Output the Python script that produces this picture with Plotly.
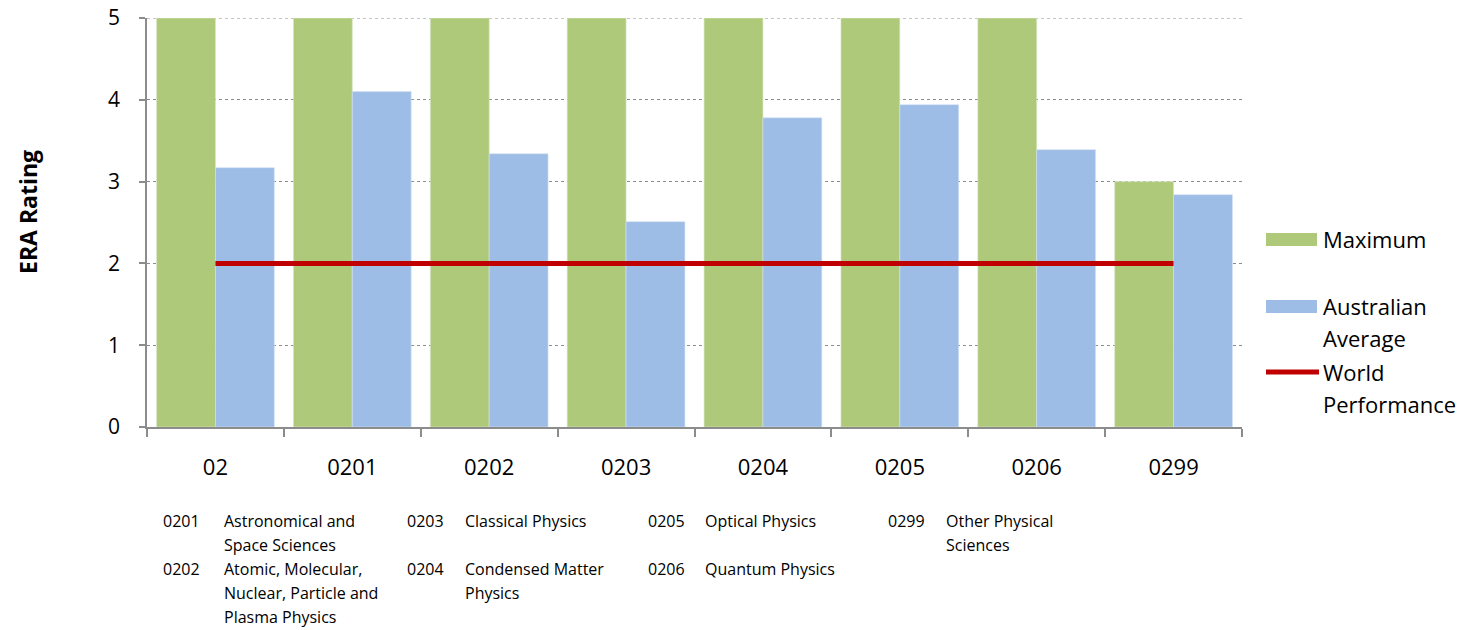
import plotly.graph_objects as go

categories = ["02", "0201", "0202", "0203", "0204", "0205", "0206", "0299"]
maximum = [5, 5, 5, 5, 5, 5, 5, 3]
australian_average = [3.17, 4.10, 3.34, 2.51, 3.78, 3.94, 3.39, 2.84]
world_performance = [2, 2, 2, 2, 2, 2, 2, 2]
y_ticks = [0, 1, 2, 3, 4, 5]

footnote_codes = ["0201", "0202", "0203", "0204", "0205", "0206", "0299"]
footnote_names = [
    "Astronomical and\nSpace Sciences",
    "Atomic, Molecular,\nNuclear, Particle and\nPlasma Physics",
    "Classical Physics",
    "Condensed Matter\nPhysics",
    "Optical Physics",
    "Quantum Physics",
    "Other Physical\nSciences",
]

W, H = 1478, 630
L, R, T, B = 147, 1242, 18, 427  # page pixel coordinates of plot area
PW, PH = R - L, B - T


def px(x):
    return (x - L) / PW


def py(y):
    return (B - y) / PH


GREEN = "#AFC97B"
BLUE = "#9DBDE6"
RED = "#C00000"
GRID = "#8C8C8C"
FONT = "Open Sans"

fig = go.Figure()
fig.add_trace(go.Bar(x=categories, y=maximum, name="Maximum",
                     marker=dict(color=GREEN, line=dict(width=0.6, color="#D8E6C2")),
                     showlegend=False))
fig.add_trace(go.Bar(x=categories, y=australian_average, name="Australian Average",
                     marker=dict(color=BLUE, line=dict(width=0.6, color="#D2E1F5")),
                     showlegend=False))
fig.add_trace(go.Scatter(x=categories, y=world_performance, name="World Performance",
                         mode="lines", line=dict(color=RED, width=5),
                         showlegend=False))

annotations = []
shapes = []

# top gridline (plotly clips grid lines at the range ends)
shapes.append(dict(type="line", xref="paper", yref="y", x0=0, x1=1,
                   y0=max(y_ticks), y1=max(y_ticks), layer="below",
                   line=dict(color=GRID, width=1, dash="dot")))

# y-axis title
annotations.append(dict(x=px(28), y=py(212), xref="paper", yref="paper",
                        text="<b>ERA Rating</b>", textangle=-90, showarrow=False,
                        font=dict(family=FONT, size=23, color="black"),
                        xanchor="center", yanchor="middle"))

# manual legend
leg_font = dict(family=FONT, size=22, color="black")
shapes.append(dict(type="rect", xref="paper", yref="paper",
                   x0=px(1266), x1=px(1317), y0=py(246), y1=py(233),
                   fillcolor=GREEN, line=dict(width=0)))
shapes.append(dict(type="rect", xref="paper", yref="paper",
                   x0=px(1266), x1=px(1317), y0=py(313), y1=py(300),
                   fillcolor=BLUE, line=dict(width=0)))
shapes.append(dict(type="line", xref="paper", yref="paper",
                   x0=px(1266), x1=px(1319), y0=py(372), y1=py(372),
                   line=dict(color=RED, width=5)))
legend_lines = [("Maximum", 239), ("Australian", 306), ("Average", 338),
                ("World", 372), ("Performance", 404)]
for txt, yy in legend_lines:
    annotations.append(dict(x=px(1321), y=py(yy), xref="paper", yref="paper",
                            text=txt, showarrow=False, font=leg_font,
                            xanchor="left", yanchor="middle"))

# footnotes
code_x = [161, 161, 405, 405, 646, 646, 886]
name_x = [222, 222, 463, 463, 703, 703, 944]
row_y = [521, 569, 521, 569, 521, 569, 521]
fn_font = dict(family=FONT, size=16, color="black")
for code, name, cx, nx, ry in zip(footnote_codes, footnote_names, code_x, name_x, row_y):
    annotations.append(dict(x=px(cx), y=py(ry), xref="paper", yref="paper",
                            text=code, showarrow=False, font=fn_font,
                            xanchor="left", yanchor="middle"))
    for i, line in enumerate(name.split("\n")):
        annotations.append(dict(x=px(nx), y=py(ry + 24 * i), xref="paper", yref="paper",
                                text=line, showarrow=False, font=fn_font,
                                xanchor="left", yanchor="middle"))

fig.update_layout(
    width=W, height=H,
    margin=dict(l=L, r=W - R, t=T, b=H - B, pad=0, autoexpand=False),
    paper_bgcolor="white", plot_bgcolor="white",
    barmode="group", bargap=0.14, bargroupgap=0,
    font=dict(family=FONT, color="black"),
    annotations=annotations, shapes=shapes,
    showlegend=False,
)
fig.update_xaxes(type="category", showline=True, linecolor=GRID, linewidth=1.5,
                 ticks="outside", tickson="boundaries", ticklen=8, tickcolor=GRID,
                 tickwidth=1.5, tickfont=dict(family=FONT, size=22, color="black"),
                 ticklabelstandoff=20, showgrid=False, zeroline=False, automargin=False)
fig.update_yaxes(range=[0, 5], tickvals=y_ticks, showline=True, linecolor=GRID,
                 linewidth=1.5, ticks="outside", ticklen=6, tickcolor=GRID, tickwidth=1.5,
                 tickfont=dict(family=FONT, size=21, color="black"),
                 ticklabelstandoff=15, ticklabeloverflow="allow",
                 showgrid=True, gridcolor=GRID, griddash="dot",
                 gridwidth=1, zeroline=False, automargin=False)

fig.write_html("out.html", config={"displayModeBar": False},
               post_script="document.body.style.margin='0';document.body.style.overflow='hidden';")
